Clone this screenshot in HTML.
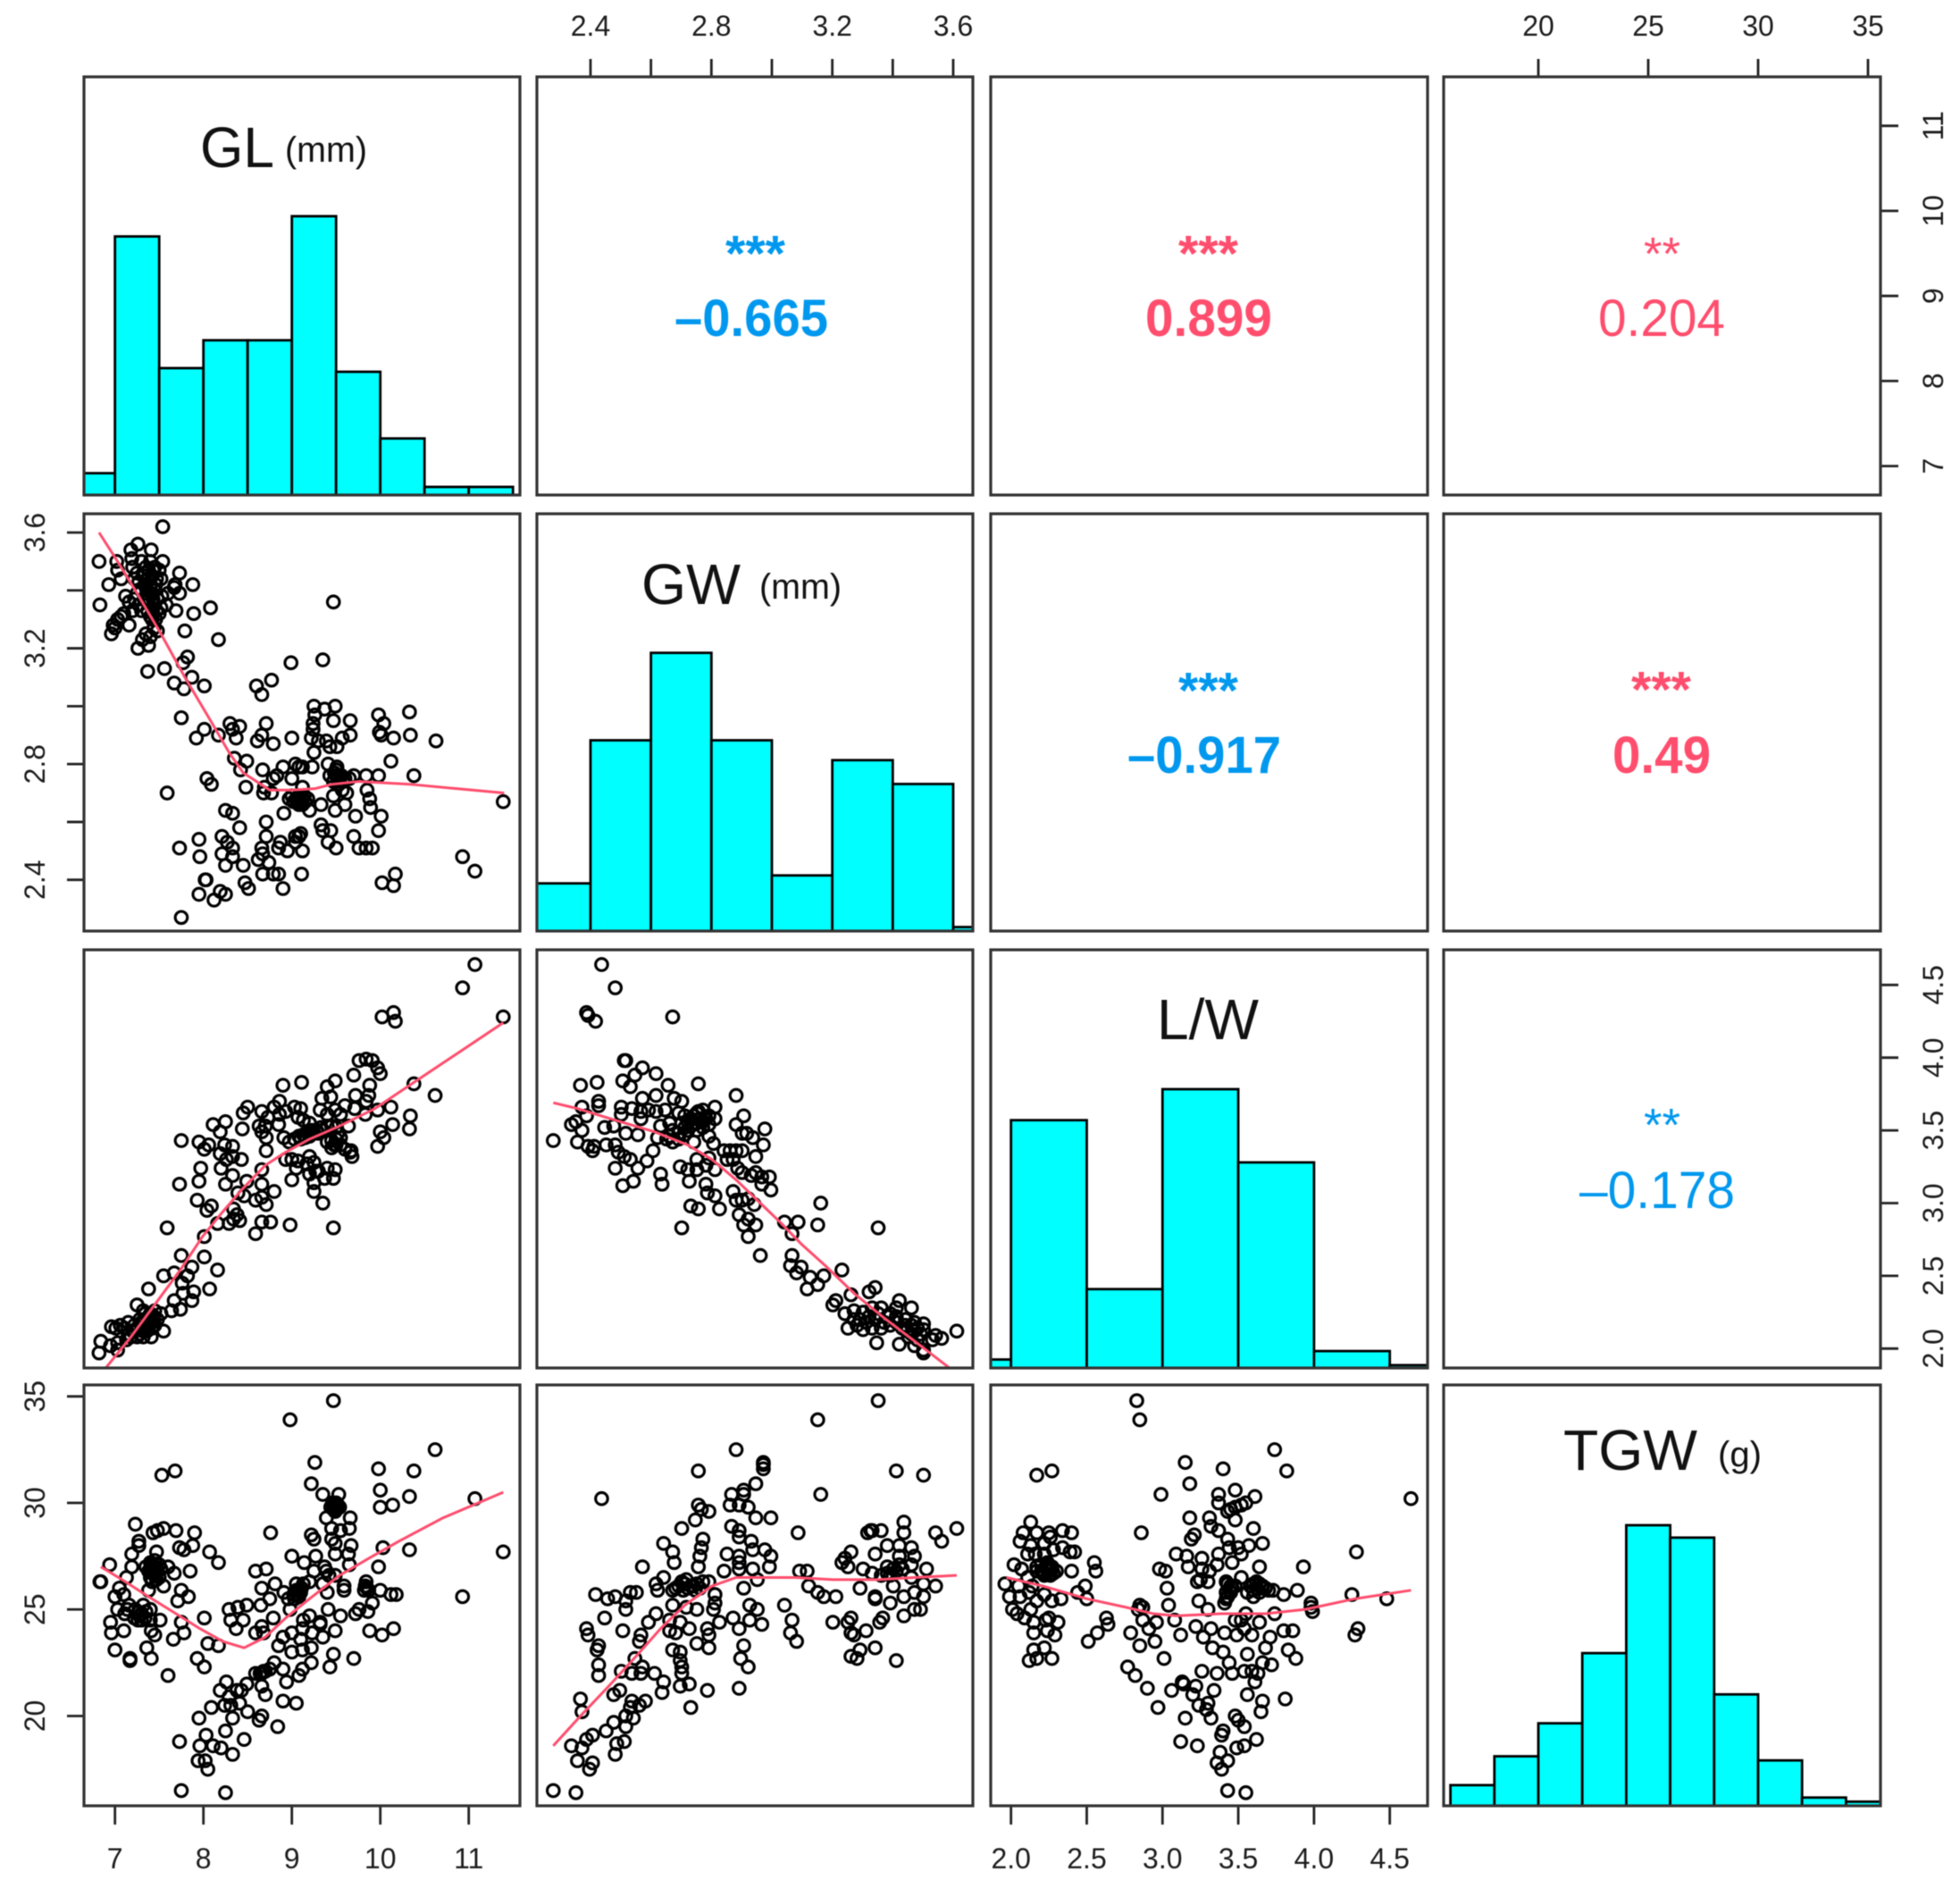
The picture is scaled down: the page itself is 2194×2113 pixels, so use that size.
<!DOCTYPE html>
<html lang="en">
<head>
<meta charset="utf-8">
<title>Scatterplot matrix of grain traits</title>
<style>
html,body{margin:0;padding:0;background:#fff;width:2194px;height:2113px;overflow:hidden}
svg{display:block;font-family:"Liberation Sans",sans-serif;filter:blur(0.6px)}
.frame{fill:none;stroke:#333;stroke-width:3.2}
.tick{fill:#1c1c1c;font-size:32px}
</style>
</head>
<body>
<svg id="chart" width="2194" height="2113" viewBox="0 0 2194 2113" xmlns="http://www.w3.org/2000/svg">
<defs>
<clipPath id="c00"><rect x="94" y="86" width="488" height="468"/></clipPath>
<clipPath id="c10"><rect x="94" y="575" width="488" height="467"/></clipPath>
<clipPath id="c11"><rect x="601" y="575" width="488" height="467"/></clipPath>
<clipPath id="c20"><rect x="94" y="1063" width="488" height="468"/></clipPath>
<clipPath id="c21"><rect x="601" y="1063" width="488" height="468"/></clipPath>
<clipPath id="c22"><rect x="1109" y="1063" width="489" height="468"/></clipPath>
<clipPath id="c30"><rect x="94" y="1550" width="488" height="471"/></clipPath>
<clipPath id="c31"><rect x="601" y="1550" width="488" height="471"/></clipPath>
<clipPath id="c32"><rect x="1109" y="1550" width="489" height="471"/></clipPath>
<clipPath id="c33"><rect x="1616" y="1550" width="489" height="471"/></clipPath>
</defs>
<g id="marks"></g>
<g id="axes"></g>
<g>
<rect class="frame" x="94" y="86" width="488" height="468"/>
<rect class="frame" x="601" y="86" width="488" height="468"/>
<rect class="frame" x="1109" y="86" width="489" height="468"/>
<rect class="frame" x="1616" y="86" width="489" height="468"/>
<rect class="frame" x="94" y="575" width="488" height="467"/>
<rect class="frame" x="601" y="575" width="488" height="467"/>
<rect class="frame" x="1109" y="575" width="489" height="467"/>
<rect class="frame" x="1616" y="575" width="489" height="467"/>
<rect class="frame" x="94" y="1063" width="488" height="468"/>
<rect class="frame" x="601" y="1063" width="488" height="468"/>
<rect class="frame" x="1109" y="1063" width="489" height="468"/>
<rect class="frame" x="1616" y="1063" width="489" height="468"/>
<rect class="frame" x="94" y="1550" width="488" height="471"/>
<rect class="frame" x="601" y="1550" width="488" height="471"/>
<rect class="frame" x="1109" y="1550" width="489" height="471"/>
<rect class="frame" x="1616" y="1550" width="489" height="471"/>
</g>
<g fill="#111">
<text x="224" y="187" font-size="64" textLength="83" lengthAdjust="spacingAndGlyphs">GL</text>
<text x="319" y="181" font-size="40" textLength="92" lengthAdjust="spacingAndGlyphs">(mm)</text>
<text x="718" y="676" font-size="64" textLength="111" lengthAdjust="spacingAndGlyphs">GW</text>
<text x="850" y="670" font-size="40" textLength="92" lengthAdjust="spacingAndGlyphs">(mm)</text>
<text x="1295" y="1163" font-size="64" textLength="114" lengthAdjust="spacingAndGlyphs">L/W</text>
<text x="1750" y="1645" font-size="64" textLength="150" lengthAdjust="spacingAndGlyphs">TGW</text>
<text x="1923" y="1641" font-size="40" textLength="49" lengthAdjust="spacingAndGlyphs">(g)</text>
</g>
<g>
<text x="812" y="303" font-size="57" font-weight="700" fill="#0098ee" textLength="67" lengthAdjust="spacingAndGlyphs">***</text>
<text x="755" y="376" font-size="58" font-weight="700" fill="#0098ee" textLength="172" lengthAdjust="spacingAndGlyphs">–0.665</text>
<text x="1319" y="303" font-size="57" font-weight="700" fill="#ff4d6d" textLength="67" lengthAdjust="spacingAndGlyphs">***</text>
<text x="1282" y="376" font-size="58" font-weight="700" fill="#ff4d6d" textLength="142" lengthAdjust="spacingAndGlyphs">0.899</text>
<text x="1840" y="302" font-size="52" fill="#ff4d6d" textLength="41" lengthAdjust="spacingAndGlyphs">**</text>
<text x="1789" y="376" font-size="58" fill="#ff4d6d" textLength="142" lengthAdjust="spacingAndGlyphs">0.204</text>
<text x="1319" y="792" font-size="57" font-weight="700" fill="#0098ee" textLength="67" lengthAdjust="spacingAndGlyphs">***</text>
<text x="1262" y="865" font-size="58" font-weight="700" fill="#0098ee" textLength="172" lengthAdjust="spacingAndGlyphs">–0.917</text>
<text x="1826" y="791" font-size="57" font-weight="700" fill="#ff4d6d" textLength="67" lengthAdjust="spacingAndGlyphs">***</text>
<text x="1805" y="865" font-size="58" font-weight="700" fill="#ff4d6d" textLength="110" lengthAdjust="spacingAndGlyphs">0.49</text>
<text x="1840" y="1277" font-size="52" fill="#0098ee" textLength="41" lengthAdjust="spacingAndGlyphs">**</text>
<text x="1768" y="1352" font-size="58" fill="#0098ee" textLength="174" lengthAdjust="spacingAndGlyphs">–0.178</text>
</g>
</svg>
<script>
// Histogram values (bin edges and counts)
const glBreaks=[6.5,7,7.5,8,8.5,9,9.5,10,10.5,11,11.5];
const glCounts=[5.4,64,31.4,38.3,38.3,69,30.5,14,2,2];
const gwBreaks=[2.2,2.4,2.6,2.8,3,3.2,3.4,3.6,3.8];
const gwCounts=[12,48,70,48,14,43,37,1];
const lwBreaks=[1.5,2,2.5,3,3.5,4,4.5,5];
const lwCounts=[3,88,28,99,73,6,1];
const tgwBreaks=[16,18,20,22,24,26,28,30,32,34,36];
const tgwCounts=[5,12,20,37,68,65,27,11,2,1];

// Tick values and labels
const glTicks=[7,8,9,10,11];
const gwTicks=[2.4,2.6,2.8,3,3.2,3.4,3.6];
const gwTickLabels=["2.4","","2.8","","3.2","","3.6"];
const lwTicks=[2,2.5,3,3.5,4,4.5];
const lwTickLabels=["2.0","2.5","3.0","3.5","4.0","4.5"];
const tgwTicks=[20,25,30,35];

// Scatter values: [x, y]
const glGwPoints=[[7.54,3.62],[6.82,3.5],[7.02,3.5],[7.26,3.56],[7.18,3.54],[7.19,3.51],[7.41,3.54],[7.54,3.5],[7.73,3.46],[7.03,3.47],[6.93,3.42],[7.07,3.44],[7.88,3.42],[7.67,3.41],[7.68,3.42],[7.73,3.39],[6.83,3.35],[7.69,3.33],[7.89,3.32],[8.08,3.34],[7.79,3.26],[8.17,3.23],[7.26,3.2],[7.38,3.21],[7.16,3.28],[6.96,3.25],[6.98,3.28],[7,3.27],[7.03,3.3],[7.07,3.31],[7.1,3.32],[7.2,3.48],[7.25,3.46],[7.3,3.5],[7.35,3.48],[7.4,3.5],[7.45,3.48],[7.5,3.47],[7.22,3.44],[7.27,3.43],[7.32,3.45],[7.37,3.44],[7.42,3.45],[7.47,3.44],[7.52,3.44],[7.3,3.4],[7.35,3.41],[7.4,3.41],[7.45,3.4],[7.25,3.39],[7.12,3.38],[7.16,3.36],[7.22,3.37],[7.27,3.35],[7.33,3.37],[7.38,3.37],[7.43,3.37],[7.48,3.37],[7.53,3.38],[7.6,3.39],[7.2,3.33],[7.3,3.33],[7.37,3.33],[7.42,3.34],[7.47,3.33],[7.52,3.34],[7.58,3.35],[7.42,3.3],[7.46,3.3],[7.5,3.32],[7.44,3.27],[7.48,3.26],[7.35,3.25],[7.31,3.23],[7.4,3.24],[9.47,3.36],[7.82,3.17],[7.77,3.15],[8.99,3.15],[9.35,3.16],[7.37,3.12],[7.56,3.13],[7.67,3.08],[7.87,3.1],[7.78,3.06],[8.01,3.07],[8.77,3.09],[8.6,3.07],[8.66,3.04],[7.75,2.96],[8.01,2.92],[7.92,2.89],[8.17,2.9],[8.3,2.94],[8.33,2.92],[8.41,2.93],[8.37,2.89],[8.71,2.94],[8.66,2.9],[8.61,2.88],[8.79,2.87],[9,2.89],[9.25,3],[9.37,2.99],[9.49,3],[9.26,2.97],[9.24,2.94],[9.47,2.95],[9.66,2.95],[9.24,2.92],[9.22,2.89],[9.3,2.88],[9.39,2.88],[9.43,2.86],[9.51,2.86],[9.57,2.89],[9.66,2.9],[9.98,2.97],[10.33,2.98],[10.04,2.94],[9.99,2.91],[10.01,2.9],[10.15,2.89],[10.34,2.9],[10.63,2.88],[9.25,2.84],[10.12,2.81],[10.38,2.76],[8.35,2.82],[8.49,2.81],[8.42,2.78],[8.67,2.78],[8.9,2.79],[8.79,2.75],[8.83,2.76],[9,2.75],[9.04,2.8],[9.08,2.79],[9.12,2.79],[9.23,2.79],[9.41,2.8],[9.51,2.79],[9.43,2.76],[9.48,2.77],[9.52,2.75],[9.56,2.76],[9.6,2.75],[9.65,2.75],[9.7,2.76],[9.47,2.74],[9.53,2.73],[9.84,2.76],[9.98,2.76],[8.48,2.72],[8.68,2.7],[8.77,2.7],[8.69,2.72],[7.59,2.7],[8.04,2.75],[8.09,2.73],[8.97,2.68],[9,2.69],[9.05,2.68],[9.08,2.69],[9.12,2.68],[9.15,2.67],[9.08,2.66],[9.12,2.66],[9.18,2.68],[9.12,2.72],[9.2,2.64],[8.91,2.63],[9.33,2.66],[9.47,2.69],[9.57,2.71],[9.62,2.7],[9.6,2.66],[9.49,2.64],[9.85,2.71],[9.88,2.68],[9.89,2.65],[9.72,2.62],[10.01,2.62],[9.98,2.57],[9.33,2.59],[9.35,2.57],[9.44,2.57],[9.41,2.53],[9.5,2.51],[9.7,2.55],[9.76,2.51],[9.84,2.51],[9.91,2.51],[8.25,2.64],[8.33,2.63],[8.41,2.58],[8.71,2.6],[8.71,2.55],[8.21,2.55],[8.27,2.53],[8.33,2.51],[7.95,2.54],[7.73,2.51],[7.96,2.48],[8.21,2.49],[8.33,2.48],[8.25,2.45],[8.45,2.45],[8.66,2.51],[8.67,2.49],[8.62,2.47],[8.74,2.46],[8.67,2.42],[8.79,2.42],[8.85,2.42],[9.11,2.42],[8.87,2.53],[8.85,2.51],[8.95,2.5],[9.12,2.5],[9.04,2.53],[9.08,2.55],[9.1,2.56],[9.04,2.55],[8.03,2.4],[8.02,2.4],[7.95,2.35],[8.12,2.33],[8.19,2.36],[8.25,2.35],[8.47,2.39],[8.51,2.37],[8.9,2.37],[7.75,2.27],[10.02,2.39],[10.17,2.42],[10.15,2.38],[10.93,2.48],[11.07,2.43],[11.39,2.67],[7.34,3.46],[7.38,3.47],[7.43,3.47],[7.36,3.39],[7.41,3.39],[7.46,3.42],[7.4,3.31],[7.45,3.35],[7.43,3.32],[9.02,2.67],[9.06,2.67],[9.1,2.67],[9.14,2.69],[9.5,2.76],[9.54,2.74],[9.58,2.74],[9.5,2.78]];

const glLwPoints=[[11.07,4.64],[10.93,4.48],[11.39,4.28],[10.02,4.28],[10.15,4.31],[10.17,4.25],[9.76,3.98],[9.84,3.99],[9.91,3.98],[9.97,3.93],[10,3.89],[9.7,3.88],[9.49,3.84],[9.4,3.8],[9.88,3.81],[10.38,3.82],[10.62,3.74],[8.9,3.81],[9.11,3.83],[9.72,3.74],[9.34,3.72],[9.44,3.73],[9.87,3.74],[9.84,3.7],[9.6,3.67],[9.49,3.64],[9.32,3.64],[9.4,3.61],[9.55,3.61],[9.71,3.65],[9.83,3.61],[9.97,3.64],[10.12,3.66],[10.34,3.6],[10.33,3.51],[10.14,3.54],[10,3.49],[10.04,3.45],[9.97,3.39],[8.5,3.66],[8.45,3.62],[8.44,3.51],[8.11,3.54],[8.25,3.56],[8.19,3.49],[8.66,3.63],[8.86,3.7],[8.8,3.66],[8.73,3.59],[8.63,3.53],[8.7,3.53],[8.66,3.49],[8.71,3.45],[8.86,3.61],[8.93,3.63],[8.85,3.54],[9.03,3.66],[9.1,3.65],[9.07,3.59],[9.13,3.57],[9.2,3.55],[8.91,3.45],[7.75,3.43],[7.95,3.42],[8.06,3.4],[8.01,3.37],[8.24,3.4],[8.33,3.39],[8.19,3.34],[8.33,3.32],[8.43,3.3],[8.26,3.3],[8.71,3.36],[8.97,3.42],[9.03,3.44],[9.08,3.46],[9.13,3.47],[9.18,3.48],[9.23,3.5],[9.28,3.5],[9.33,3.52],[9.4,3.53],[9.45,3.53],[9.5,3.52],[9.52,3.48],[9.55,3.45],[9.5,3.44],[9.45,3.43],[9.48,3.4],[9.55,3.4],[9.6,3.37],[9.67,3.36],[9.68,3.32],[9.66,3.35],[9.64,3.53],[9,3.3],[9.07,3.29],[8.93,3.3],[9.2,3.32],[9.25,3.28],[9.27,3.22],[9.2,3.2],[9.3,3.22],[9.49,3.23],[9.47,3.17],[9.37,3.17],[9.25,3.14],[9.25,3.08],[9,3.16],[9.05,3.24],[9.17,3.27],[9.4,3.24],[9.35,3],[9.47,2.83],[8.98,2.85],[8.76,2.87],[8.66,2.87],[8.59,2.79],[7.97,3.24],[7.95,3.15],[7.73,3.13],[8.2,3.24],[8.33,3.19],[8.25,3.13],[8.49,3.15],[8.66,3.23],[8.66,3.13],[8.8,3.08],[8.59,3.02],[8.71,2.99],[8.66,3.04],[8.46,3.05],[8.39,3.07],[7.93,3.02],[8.09,2.98],[8.04,2.95],[8.34,2.96],[8.38,2.92],[8.29,2.86],[8.41,2.88],[8.34,2.89],[8.16,2.86],[7.59,2.83],[8.01,2.77],[7.75,2.64],[8.01,2.63],[8.16,2.54],[8.07,2.41],[7.87,2.56],[7.82,2.5],[7.67,2.52],[7.55,2.5],[7.76,2.45],[7.38,2.41],[7.89,2.39],[7.77,2.38],[7.87,2.33],[7.67,2.33],[7.74,2.27],[7.25,2.3],[7.64,2.26],[7.55,2.12],[7.41,2.08],[7.32,2.26],[7.38,2.22],[7.45,2.26],[7.52,2.24],[7.28,2.2],[7.35,2.16],[7.42,2.18],[7.48,2.2],[7.25,2.14],[7.32,2.12],[7.38,2.14],[7.45,2.16],[7.18,2.08],[7.25,2.08],[7.32,2.08],[7.15,2.18],[7.06,2.16],[6.96,2.15],[7.01,2.14],[7.11,2.14],[7.22,2.16],[7.13,2.06],[7.03,2.04],[6.95,2.02],[7.03,1.99],[6.84,2.05],[6.82,1.97],[7.3,2.18],[7.34,2.2],[7.38,2.18],[7.4,2.24],[7.44,2.22],[7.42,2.14],[7.36,2.12],[7.3,2.14],[7.28,2.1],[7.34,2.24],[7.2,2.12],[7.16,2.1],[9.1,3.44],[9.15,3.45],[9.2,3.46],[9.25,3.48],[9.3,3.48],[9.35,3.5],[9.4,3.42],[9.45,3.38],[9.5,3.4]];

const gwLwPoints=[[2.425,4.64],[2.47,4.48],[2.375,4.31],[2.38,4.29],[2.405,4.25],[2.66,4.28],[2.5,3.98],[2.505,3.98],[2.56,3.93],[2.605,3.89],[2.535,3.88],[2.495,3.84],[2.52,3.8],[2.645,3.81],[2.745,3.82],[2.87,3.74],[2.355,3.81],[2.41,3.83],[2.415,3.7],[2.415,3.67],[2.36,3.66],[2.375,3.6],[2.49,3.66],[2.525,3.65],[2.49,3.61],[2.555,3.63],[2.56,3.72],[2.555,3.58],[2.605,3.74],[2.58,3.64],[2.605,3.63],[2.635,3.64],[2.665,3.72],[2.69,3.7],[2.8,3.66],[2.895,3.6],[2.65,3.55],[2.68,3.62],[2.7,3.6],[2.72,3.58],[2.74,3.62],[2.76,3.64],[2.78,3.6],[2.76,3.56],[2.72,3.53],[2.69,3.55],[2.66,3.5],[2.7,3.52],[2.74,3.5],[2.78,3.54],[2.64,3.44],[2.66,3.42],[2.68,3.44],[2.73,3.42],[2.62,3.53],[2.61,3.45],[2.78,3.46],[2.795,3.41],[2.745,3.63],[2.325,3.54],[2.34,3.56],[2.36,3.5],[2.345,3.42],[2.435,3.52],[2.465,3.53],[2.505,3.48],[2.545,3.47],[2.265,3.43],[2.38,3.39],[2.4,3.39],[2.395,3.36],[2.44,3.4],[2.47,3.4],[2.48,3.35],[2.5,3.32],[2.52,3.3],[2.47,3.24],[2.545,3.24],[2.575,3.29],[2.595,3.36],[2.53,3.15],[2.495,3.12],[2.62,3.2],[2.625,3.13],[2.87,3.54],[2.905,3.48],[2.965,3.51],[2.96,3.4],[2.89,3.48],[2.925,3.45],[2.83,3.36],[2.85,3.36],[2.87,3.36],[2.89,3.36],[2.935,3.32],[2.84,3.3],[2.86,3.3],[2.875,3.24],[2.89,3.21],[2.935,3.21],[2.92,3.19],[2.955,3.18],[2.98,3.18],[2.955,3.13],[2.985,3.09],[2.685,3.25],[2.71,3.23],[2.74,3.3],[2.74,3.23],[2.77,3.26],[2.8,3.23],[2.78,3.31],[2.715,3.15],[2.77,3.13],[2.775,3.07],[2.8,3.05],[2.72,2.98],[2.745,2.96],[2.815,2.96],[2.69,2.83],[2.86,3.08],[2.87,3.02],[2.89,3.02],[2.91,3.03],[2.93,2.99],[2.88,2.92],[2.91,2.89],[2.895,2.85],[2.935,2.85],[2.91,2.77],[2.95,2.64],[3.15,3],[3.03,2.87],[3.075,2.87],[3.14,2.85],[3.055,2.79],[3.34,2.83],[3.055,2.64],[3.05,2.57],[3.085,2.56],[3.07,2.52],[3.115,2.49],[3.16,2.5],[3.14,2.44],[3.105,2.41],[3.22,2.54],[3.19,2.3],[3.2,2.33],[3.25,2.37],[3.31,2.39],[3.33,2.42],[3.41,2.33],[3.45,2.28],[3.23,2.24],[3.26,2.26],[3.29,2.25],[3.32,2.28],[3.35,2.28],[3.38,2.24],[3.4,2.28],[3.24,2.14],[3.27,2.16],[3.3,2.18],[3.33,2.2],[3.36,2.18],[3.29,2.13],[3.32,2.14],[3.4,2.18],[3.43,2.16],[3.45,2.16],[3.47,2.14],[3.49,2.17],[3.435,2.12],[3.45,2.1],[3.48,2.1],[3.335,2.04],[3.41,2.03],[3.46,2.02],[3.49,1.97],[3.49,1.99],[3.52,2.06],[3.55,2.07],[3.53,2.09],[3.6,2.12],[3.28,2.2],[3.31,2.22],[3.34,2.24],[3.37,2.22],[3.4,2.22],[3.43,2.2],[3.46,2.18],[3.26,2.2],[3.35,2.14],[3.38,2.16],[3.42,2.14],[3.46,2.12],[3.49,2.13],[3.44,2.08],[3.47,2.06],[2.71,3.56],[2.73,3.6],[2.75,3.58],[2.77,3.58],[2.74,3.55],[2.71,3.5],[2.68,3.48],[2.65,3.46],[2.7,3.47],[2.76,3.52],[2.8,3.58]];

const glTgwPoints=[[9.47,34.8],[8.98,33.9],[10.62,32.5],[9.26,31.9],[7.53,31.3],[7.68,31.5],[9.22,30.9],[9.98,31.6],[10.38,31.5],[9.35,30.4],[9.53,30.4],[10,30.6],[10.33,30.3],[10,29.8],[10.14,29.9],[11.07,30.2],[9.49,29.9],[9.47,29.7],[9.5,30],[9.44,29.8],[9.54,29.8],[9.49,29.6],[9.39,29.3],[9.66,29.3],[9.45,28.8],[9.55,28.7],[9.65,28.8],[9.22,28.5],[9.25,28.3],[9.45,28.3],[9.67,28],[9.49,28.1],[9.64,27.6],[9.49,27.6],[8.76,28.6],[9,27.5],[9.27,27.5],[9.14,27.2],[9.37,27],[9.65,27.1],[10.03,27.9],[10.33,27.8],[11.39,27.7],[9.98,27],[9.39,26.8],[9.25,26.8],[9.49,26.6],[9.42,26.6],[9.35,26.2],[9.59,26.1],[9.59,25.9],[9.84,26.3],[9.82,25.9],[9.87,25.9],[10,25.9],[10.12,25.7],[10.18,25.7],[10.93,25.6],[8.59,26.8],[8.71,26.9],[8.66,26],[8.81,26.2],[8.91,25.8],[8.75,25.5],[8.65,25.2],[9.05,26.2],[9.13,26.2],[9.2,26.3],[9.07,25.9],[9.02,25.7],[9.1,25.8],[8.96,25.5],[9.03,25.5],[8.98,25],[9.4,25.8],[9.41,25],[9.55,24.7],[9.72,24.8],[9.76,25],[9.86,24.9],[9.91,25.3],[8.29,25],[8.39,25.1],[8.49,25.2],[8.31,24.5],[8.45,24.5],[8.37,24.1],[8.01,24.6],[8.79,24.6],[8.66,24.2],[8.59,23.9],[8.68,23.9],[9.49,24],[9.32,24.3],[9.32,24.4],[9.2,24.7],[9.13,24.5],[9.12,24.1],[8.9,23.7],[9,23.9],[9.1,23.6],[9.23,23.9],[9.35,23.7],[9.88,24],[10.02,23.8],[10.15,24.1],[8.05,23.4],[8.17,23.3],[8.85,23.3],[9,23],[9.12,23.1],[9.22,23.2],[9.47,22.9],[9.7,22.7],[9.43,22.3],[9.22,22.5],[7.93,22.7],[8.01,22.3],[8.8,22.5],[8.66,22],[8.7,22.1],[8.59,22],[8.75,22.2],[8.9,22.2],[9.12,22.2],[9.08,21.9],[8.94,21.6],[8.49,21.5],[8.26,21.6],[8.19,21.2],[8.38,21.2],[8.43,21.2],[8.29,20.9],[8.66,21.4],[8.7,21],[8.9,20.7],[9.05,20.6],[8.24,20.5],[8.31,20.5],[8.09,20.4],[8.41,20.6],[8.5,20.2],[8.66,20],[8.63,19.8],[8.33,19.9],[7.95,19.9],[8.84,19.5],[8.25,19.3],[8.03,19.1],[8.46,18.9],[7.73,18.8],[7.96,18.6],[8.11,18.6],[8.2,18.5],[8.33,18.2],[7.94,17.9],[8.02,17.9],[8.05,17.5],[7.75,16.5],[8.25,16.4],[7.23,29],[7.27,28.2],[7.27,28],[7.43,28.6],[7.48,28.7],[7.55,28.8],[7.69,28.7],[7.9,28.6],[7.88,28],[7.78,27.8],[7.73,27.9],[8.07,27.7],[8.17,27.2],[7.47,27.7],[7.19,27.6],[7.19,27],[6.94,27.1],[7.85,26.8],[7.67,26.7],[7.6,27],[7.35,27],[7.4,27.2],[7.45,27.3],[7.5,27.1],[7.38,26.8],[7.43,26.9],[7.48,26.8],[7.52,26.9],[7.4,26.5],[7.45,26.6],[7.5,26.5],[7.55,26.1],[7.38,25.9],[6.83,26.3],[6.84,26.3],[7.05,26],[7.13,26.5],[7,25.6],[7.1,25.7],[7.16,25.2],[7.03,25],[7.11,24.8],[6.95,24.4],[6.96,23.9],[7.1,24],[7.22,24.6],[7.28,24.7],[7.35,24.9],[7.4,25],[7.32,25.2],[7.23,25],[7.4,24.5],[7.51,24.5],[7.41,24],[7.45,23.8],[7.75,25.9],[7.83,25.6],[7.71,25.4],[7.75,24.4],[7.78,23.9],[7.66,23.6],[7,23.1],[7.17,22.7],[7.17,22.6],[7.36,23.2],[7.41,22.7],[7.6,21.9],[7.42,27.1],[7.44,26.7],[7.42,27],[7.46,27],[7.4,26.9],[7.47,26.4],[7.42,26.3],[7.3,24.8],[7.26,24.5],[7.3,24.5],[7.34,24.6],[7.14,25],[9.46,30],[9.52,29.9],[9.48,29.8],[9.5,29.7],[9.06,25.7],[9.08,25.6],[9.11,26],[9.05,25.9],[9.85,26],[9.83,26.1],[8.68,22.1],[8.64,22]];

const gwTgwPoints=[[3.34,34.8],[3.14,33.9],[2.87,32.5],[2.96,31.9],[2.96,31.8],[2.96,31.6],[2.745,31.5],[3.4,31.5],[3.49,31.3],[2.935,30.9],[2.895,30.6],[2.855,30.4],[3.15,30.4],[2.895,30.4],[2.425,30.2],[2.85,29.9],[2.88,29.9],[2.91,29.8],[2.745,29.9],[2.755,29.7],[2.78,29.6],[2.735,29.2],[2.935,29.3],[2.985,29.3],[2.855,28.9],[2.88,28.7],[2.88,28.4],[2.69,28.8],[3.075,28.6],[3.6,28.8],[3.425,29.1],[3.425,28.6],[3.53,28.6],[3.55,28.2],[3.315,28.7],[3.305,28.6],[3.35,28.7],[3.32,28.7],[2.76,28.3],[2.755,27.9],[2.63,28.1],[2.66,27.7],[2.665,27.2],[2.75,27.5],[2.745,27],[2.92,28.2],[2.925,27.8],[2.965,27.8],[2.985,27.5],[2.84,27.6],[2.88,27.5],[2.88,27.2],[2.83,26.8],[2.88,26.9],[2.925,26.9],[2.98,27],[2.56,27],[3.25,27.7],[3.23,27.4],[3.22,27.2],[3.24,27],[3.33,27.6],[3.37,28],[3.41,28],[3.45,27.9],[3.46,27.5],[3.41,27.5],[3.41,27.1],[3.37,27],[3.39,26.9],[3.45,27.1],[3.5,26.9],[3.29,26.9],[3.32,26.7],[3.35,26.6],[3.37,26.7],[3.45,26.5],[3.49,26.2],[3.53,26.1],[3.28,26],[3.39,26.1],[3.46,25.8],[3.33,25.6],[3.33,25.5],[3.425,25.6],[3.49,25.6],[3.38,25.3],[3.46,25],[3.48,25],[3.425,24.7],[3.355,24.6],[3.345,24.4],[3.3,24],[3.25,24.6],[3.24,24.4],[3.25,23.9],[3.26,23.8],[3.33,23.2],[3.28,23.1],[3.25,22.8],[3.27,22.7],[3.4,22.6],[3.08,26.8],[3.105,26.8],[2.94,26.4],[2.895,26],[3.11,26.1],[3.14,25.8],[3.16,25.6],[3.2,25.6],[3.03,25.2],[3.055,24.5],[3.05,23.9],[3.07,23.5],[3.19,24.4],[2.605,26.2],[2.63,26.5],[2.61,25.9],[2.66,25.9],[2.68,26.1],[2.705,26.4],[2.72,26.1],[2.74,26.2],[2.78,26.3],[2.735,25.9],[2.695,25.9],[2.405,25.7],[2.445,25.5],[2.47,25.6],[2.52,25.8],[2.54,25.8],[2.505,25.4],[2.505,25],[2.435,24.6],[2.375,24.1],[2.38,23.8],[2.495,24],[2.555,23.8],[2.55,23.5],[2.58,24.4],[2.605,24.8],[2.415,23.3],[2.41,23.1],[2.415,22.4],[2.415,21.9],[2.535,22.7],[2.56,22.3],[2.6,22],[2.49,22.1],[2.525,22],[2.555,22],[2.63,21.6],[2.485,21.2],[2.465,21],[2.625,21.1],[2.355,20.8],[2.36,20.2],[2.57,20.7],[2.525,20.7],[2.55,20.5],[2.52,20.4],[2.505,20],[2.53,19.9],[2.465,19.7],[2.505,19.5],[2.44,19.3],[2.395,19.1],[2.375,18.9],[2.5,18.8],[2.475,18.7],[2.325,18.6],[2.36,18.5],[2.47,18.2],[2.345,17.9],[2.395,17.8],[2.385,17.5],[2.265,16.5],[2.34,16.4],[2.8,25.7],[2.8,25.3],[2.795,25],[2.74,25],[2.66,25.2],[2.705,25.1],[2.65,24.5],[2.685,24.4],[2.715,24.1],[2.65,24],[2.67,23.9],[2.66,23.1],[2.685,23],[2.685,22.6],[2.69,22.3],[2.69,22],[2.685,21.4],[2.715,21.5],[2.72,20.4],[2.775,21.2],[2.88,21.3],[2.91,22.3],[2.885,22.7],[2.895,23.3],[2.74,23.4],[2.78,23.2],[2.775,24.1],[2.78,23.8],[2.815,24.4],[2.86,24.6],[2.88,24.1],[2.915,25.2],[2.94,25],[2.915,24.5],[2.955,24.3],[2.67,26],[2.7,26.2],[2.71,26],[2.73,26.1],[2.75,26],[2.76,26.3],[2.69,26.3],[3.38,26.6],[3.4,26.8],[3.42,26.9]];

const lwTgwPoints=[[2.83,34.8],[2.85,33.9],[3.74,32.5],[3.15,31.9],[2.17,31.3],[2.27,31.5],[3.4,31.6],[3.82,31.5],[3.18,30.9],[2.99,30.4],[3.37,30.4],[3.48,30.6],[3.61,30.3],[4.64,30.2],[3.37,30],[3.48,29.8],[3.52,29.9],[3.45,29.7],[3.55,30],[3.43,29.6],[3.48,29.2],[3.18,29.3],[3.31,29.3],[3.32,28.9],[3.37,28.7],[3.6,28.8],[2.86,28.6],[3.21,28.5],[3.19,28.3],[3.43,28.3],[3.57,28],[3.66,28.1],[3.44,27.9],[3.5,27.9],[3.52,27.6],[3.37,27.6],[3.09,27.6],[3.16,27.5],[3.26,27.4],[3.17,27],[3.36,27.1],[3.46,27.2],[3.64,27],[3.93,27],[4.28,27.7],[2.55,27.2],[2.56,26.8],[2.4,26.8],[2.39,27.7],[2.42,27.7],[2.98,26.9],[3.02,26.8],[3.26,26.9],[3.31,26.8],[3.23,26.3],[3.3,26.3],[3.25,26.4],[3.03,26],[3.04,25.2],[3.24,25.4],[3.3,25],[3.42,26.3],[3.45,26.1],[3.48,26.1],[3.42,25.8],[3.45,25.8],[3.41,25.3],[3.52,26.5],[3.58,26.1],[3.62,26.3],[3.66,26.1],[3.7,25.9],[3.56,25.8],[3.6,25.6],[3.64,25.8],[3.73,25.9],[3.8,25.7],[3.89,25.9],[4.25,25.7],[4.48,25.5],[3.98,25.3],[3.98,25.1],[3.99,24.9],[3.74,24.8],[3.55,24.8],[3.08,24.5],[3.48,24.5],[3.52,24.5],[3.64,24.4],[2.85,25.2],[2.87,25.1],[2.84,25],[2.87,24.5],[2.96,24.4],[2.91,24.1],[2.79,23.9],[2.85,23.3],[2.95,23.5],[3.01,22.7],[3.12,23.8],[3.22,24.2],[3.32,24.1],[3.27,23.7],[3.33,23.2],[3.41,23.9],[3.49,23.8],[3.54,24.1],[3.59,23.8],[3.71,23.7],[3.8,24],[3.86,24],[3.83,23.1],[3.88,22.7],[3.68,23.2],[3.56,22.9],[3.4,23],[3.44,22.5],[3.26,22.1],[3.36,22],[3.46,22],[3.54,22.1],[3.59,22.1],[3.63,22],[3.66,22.5],[3.72,22.4],[3.61,21.6],[4.29,24.1],[4.27,23.8],[2.77,22.3],[2.82,21.9],[2.9,21.3],[3.06,21.2],[3.13,21.6],[3.14,21.5],[3.22,21.4],[3.2,21],[3.34,21.2],[3.56,21],[3.66,20.7],[3.81,20.8],[2.97,20.4],[3.24,20.5],[3.3,20.6],[3.29,20.3],[3.65,20.2],[3.15,19.9],[3.32,19.9],[3.48,20],[3.5,19.8],[3.54,19.5],[3.4,19.3],[3.39,19.1],[3.62,18.9],[3.12,18.8],[3.23,18.6],[3.49,18.5],[3.54,18.6],[3.38,18.3],[3.43,17.9],[3.36,17.8],[3.39,17.5],[3.43,16.5],[3.55,16.4],[2.44,25.8],[2.49,26.1],[2.5,25.5],[2.63,24.6],[2.64,24.3],[2.57,23.9],[2.51,23.5],[1.96,26.2],[2.02,27.1],[2.07,26.9],[2.13,29.1],[2.17,28.6],[2.08,28.6],[2.06,28.2],[2.13,28],[2.16,27.6],[2.25,28.6],[2.26,28.4],[2.34,28.7],[2.4,28.6],[2.22,28.1],[2.28,27.8],[2.34,27.9],[2.11,27.6],[2.22,27.6],[2.2,27.1],[2.24,27.2],[2.27,27],[2.2,26.8],[2.24,26.9],[2.28,26.7],[2.22,26.6],[2.26,26.6],[2.3,26.8],[2.17,27],[2.17,26.8],[2.11,26.5],[2.14,26.1],[2.05,26.1],[1.99,25.6],[2.06,25.6],[2.12,25.8],[2.17,25.4],[2.22,25.7],[2.27,25.4],[2.33,25.5],[2.01,25],[2.04,24.8],[2.09,24.6],[2.13,25],[2.15,24.4],[2.23,24.5],[2.25,24.6],[2.31,24.4],[2.15,23.9],[2.24,24],[2.29,23.8],[2.15,23.1],[2.22,23.2],[2.12,22.6],[2.17,22.7],[2.27,22.7],[2.23,27],[2.25,26.8],[2.27,26.9],[2.21,26.7],[2.24,27.1],[3.43,26.2],[3.46,26],[3.44,25.9],[3.43,25.6],[3.42,25.5],[3.6,26.2],[3.64,26.2],[3.62,26],[3.66,26],[3.6,25.9],[3.68,26]];

// Loess smoothers
const glGwSmooth=[[6.82,3.6],[7.03,3.5],[7.25,3.39],[7.52,3.25],[7.79,3.1],[8.1,2.94],[8.29,2.84],[8.45,2.77],[8.75,2.71],[8.99,2.71],[9.26,2.715],[9.45,2.73],[9.76,2.74],[10.34,2.73],[11.4,2.7]];
const glLwSmooth=[[6.9,1.87],[7.18,2.08],[7.52,2.36],[7.75,2.55],[7.99,2.77],[8.19,2.92],[8.43,3.09],[8.7,3.26],[8.93,3.35],[9.2,3.44],[9.54,3.53],[9.94,3.65],[10.38,3.83],[11.39,4.24]];
const gwLwSmooth=[[2.265,3.69],[2.345,3.65],[2.47,3.57],[2.6,3.49],[2.71,3.4],[2.79,3.3],[2.87,3.16],[2.95,3],[3.02,2.86],[3.085,2.72],[3.165,2.57],[3.26,2.38],[3.36,2.21],[3.48,2.02],[3.58,1.86]];
const glTgwSmooth=[[6.84,27],[7.08,26.4],[7.38,25.6],[7.69,24.8],[7.96,24.1],[8.22,23.5],[8.46,23.2],[8.7,23.7],[8.93,24.6],[9.2,25.5],[9.54,26.6],[9.87,27.4],[10.21,28.2],[10.71,29.3],[11.39,30.5]];
const gwTgwSmooth=[[2.265,18.6],[2.355,20],[2.455,21.5],[2.545,22.9],[2.62,24.1],[2.7,25.2],[2.79,26.1],[2.87,26.5],[2.95,26.5],[3.065,26.5],[3.19,26.4],[3.34,26.4],[3.46,26.5],[3.6,26.6]];
const lwTgwSmooth=[[1.97,26.5],[2.21,26.1],[2.5,25.5],[2.76,25.1],[2.94,24.8],[3.09,24.7],[3.39,24.8],[3.68,24.8],[3.94,25],[4.27,25.5],[4.64,25.9]];

const NS='http://www.w3.org/2000/svg';
const marks=document.getElementById('marks');
const axes=document.getElementById('axes');
function linear(d0,r0,d1,r1){return function(v){return r0+(v-d0)*(r1-r0)/(d1-d0);};}
const xGL=linear(7,128.7,11,524.7), xGW=linear(2.4,661,3.6,1067), xLW=linear(2,1131.7,4.5,1555.7), xTGW=linear(20,1722,35,2091);
const xGWMarks=function(v){return xGW(v)+4;};
const yGL=linear(7,521.6,11,140.8), yGW=linear(2.4,984.7,3.6,596), yLW=linear(2,1509.3,4.5,1102.3), yTGW=linear(20,1920.5,35,1562.8);

function group(clip){
  const g=document.createElementNS(NS,'g');
  g.setAttribute('clip-path','url(#'+clip+')');
  
  
  marks.appendChild(g);
  return g;
}
function drawScatter(clip,points,smooth,xs,ys){
  const g=group(clip);
  points.forEach(function(p){
    const el=document.createElementNS(NS,'circle');
    
    
    el.setAttribute('cx',xs(p[0]));
    el.setAttribute('cy',ys(p[1]));
    el.setAttribute('r',6.8);
    el.setAttribute('fill','none');
    el.setAttribute('stroke','#000');
    el.setAttribute('stroke-width',3.1);
    g.appendChild(el);
  });
  const line=document.createElementNS(NS,'polyline');
  
  
  line.setAttribute('points',smooth.map(function(p){return xs(p[0])+','+ys(p[1]);}).join(' '));
  line.setAttribute('fill','none');
  line.setAttribute('stroke','#ff4d6d');
  line.setAttribute('stroke-width',3);
  line.setAttribute('stroke-linejoin','round');
  g.appendChild(line);
}
function drawHist(clip,breaks,counts,xs,top,bottom){
  const g=group(clip);
  const maxCount=Math.max.apply(null,counts);
  const scale=(bottom-top)*2/3/maxCount;
  counts.forEach(function(c,i){
    const el=document.createElementNS(NS,'rect');
    
    
    el.setAttribute('x',xs(breaks[i]));
    el.setAttribute('y',bottom-c*scale);
    el.setAttribute('width',xs(breaks[i+1])-xs(breaks[i]));
    el.setAttribute('height',c*scale);
    el.setAttribute('fill','#00ffff');
    el.setAttribute('stroke','#000');
    el.setAttribute('stroke-width',2.8);
    g.appendChild(el);
  });
}
function tickLine(x1,y1,x2,y2){
  const el=document.createElementNS(NS,'line');
  
  
  el.setAttribute('x1',x1);
  el.setAttribute('y1',y1);
  el.setAttribute('x2',x2);
  el.setAttribute('y2',y2);
  el.setAttribute('stroke','#222');
  el.setAttribute('stroke-width',2.8);
  axes.appendChild(el);
}
function tickText(x,y,label,rotated){
  if(!label)return;
  const el=document.createElementNS(NS,'text');
  
  
  el.setAttribute('class','tick');
  el.setAttribute('text-anchor','middle');
  el.setAttribute('x',x);
  el.setAttribute('y',y);
  if(rotated)el.setAttribute('transform','rotate(-90 '+x+' '+y+')');
  el.textContent=label;
  axes.appendChild(el);
}
function topAxis(ticks,labels,xs){ticks.forEach(function(t,i){tickLine(xs(t),86,xs(t),66);tickText(xs(t),40,labels[i]);});}
function bottomAxis(ticks,labels,xs){ticks.forEach(function(t,i){tickLine(xs(t),2021,xs(t),2042);tickText(xs(t),2091,labels[i]);});}
function leftAxis(ticks,labels,ys){ticks.forEach(function(t,i){tickLine(94,ys(t),75,ys(t));tickText(50,ys(t),labels[i],true);});}
function rightAxis(ticks,labels,ys){ticks.forEach(function(t,i){tickLine(2105,ys(t),2125,ys(t));tickText(2175,ys(t),labels[i],true);});}

drawHist('c00',glBreaks,glCounts,xGL,86,554);
drawHist('c11',gwBreaks,gwCounts,xGW,575,1042);
drawHist('c22',lwBreaks,lwCounts,xLW,1063,1531);
drawHist('c33',tgwBreaks,tgwCounts,xTGW,1550,2021);
drawScatter('c10',glGwPoints,glGwSmooth,xGL,yGW);
drawScatter('c20',glLwPoints,glLwSmooth,xGL,yLW);
drawScatter('c21',gwLwPoints,gwLwSmooth,xGWMarks,yLW);
drawScatter('c30',glTgwPoints,glTgwSmooth,xGL,yTGW);
drawScatter('c31',gwTgwPoints,gwTgwSmooth,xGWMarks,yTGW);
drawScatter('c32',lwTgwPoints,lwTgwSmooth,xLW,yTGW);

topAxis(gwTicks,gwTickLabels,xGW);
topAxis(tgwTicks,tgwTicks.map(String),xTGW);
bottomAxis(glTicks,glTicks.map(String),xGL);
bottomAxis(lwTicks,lwTickLabels,xLW);
leftAxis(gwTicks,gwTickLabels,yGW);
leftAxis(tgwTicks,tgwTicks.map(String),yTGW);
rightAxis(glTicks,glTicks.map(String),yGL);
rightAxis(lwTicks,lwTickLabels,yLW);
</script>
</body>
</html>
